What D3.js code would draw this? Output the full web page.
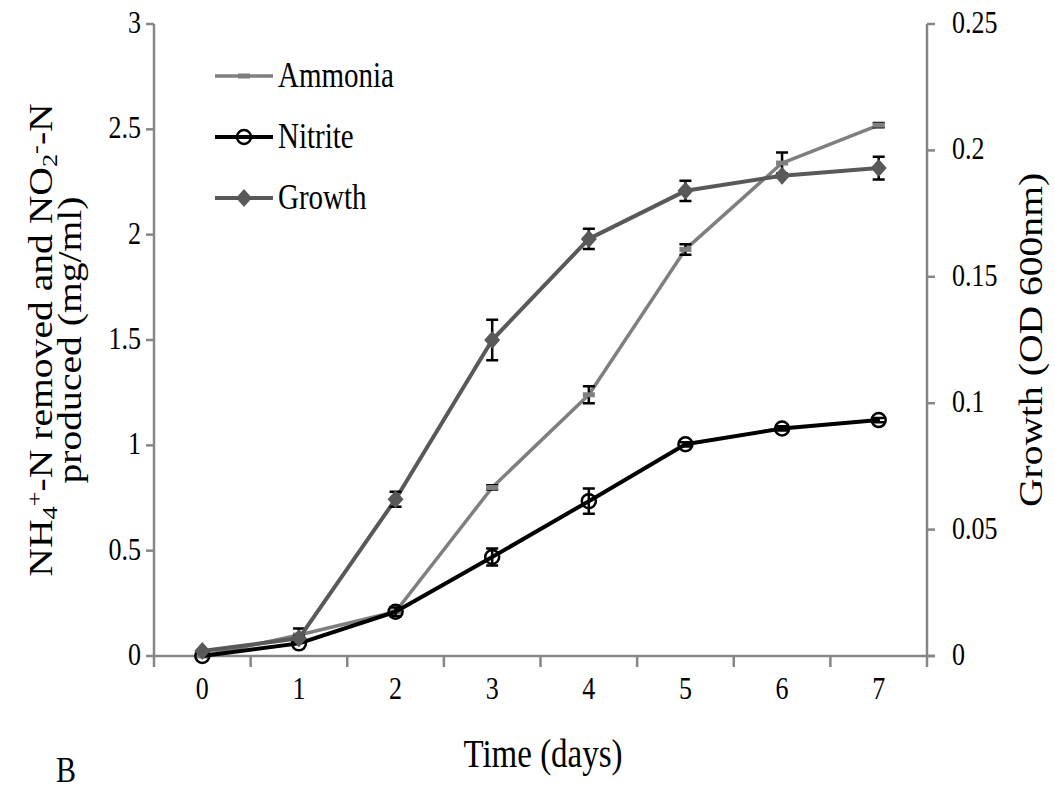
<!DOCTYPE html>
<html>
<head>
<meta charset="utf-8">
<script src="https://cdn.jsdelivr.net/npm/d3@7"></script>
<style>
  body { margin: 0; background: #fff; }
  svg text { font-family: "Liberation Serif", "Times New Roman", serif; fill: #000; }
</style>
</head>
<body>
<svg id="chart" width="1055" height="792"></svg>
<script>
// data
const days = [0, 1, 2, 3, 4, 5, 6, 7]
const ammonia = [0.0, 0.10, 0.21, 0.80, 1.24, 1.93, 2.34, 2.52]
const ammoniaErr = [0, 0.03, 0, 0.01, 0.04, 0.025, 0.05, 0.01]
const nitrite = [0.0, 0.06, 0.21, 0.47, 0.735, 1.005, 1.08, 1.12]
const nitriteErr = [0, 0, 0.02, 0.04, 0.06, 0.01, 0.01, 0.01]
const growth = [0.002, 0.007, 0.062, 0.125, 0.165, 0.184, 0.190, 0.193]
const growthErr = [0, 0.001, 0.003, 0.008, 0.004, 0.004, 0, 0.0045]
const leftTicks = [0, 0.5, 1, 1.5, 2, 2.5, 3]
const rightTicks = [0, 0.05, 0.1, 0.15, 0.2, 0.25]

const svg = d3.select('#chart')
const L = 154, R = 927, T = 24, B = 656
const SY = 1.2 // the figure's text is stretched vertically
const axisColor = '#868686'

const x = d3.scaleBand().domain(days).range([L, R]).padding(0)
const cx = d => x(d) + x.bandwidth() / 2
const xEdge = d3.scaleLinear().domain([0, days.length]).range([L, R])
const yL = d3.scaleLinear().domain([0, 3]).range([B, T])
const yR = d3.scaleLinear().domain([0, 0.25]).range([B, T])

const text = (g, tx, ty, str, size, anchor, rot) => {
  const t = g.append('text')
    .attr('transform', rot
      ? 'translate(' + tx + ',' + ty + ') rotate(-90) scale(' + SY + ',1)'
      : 'translate(' + tx + ',' + ty + ') scale(1,' + SY + ')')
    .attr('font-size', size)
    .attr('text-anchor', anchor || 'start')
  if (str) t.text(str)
  return t
}

// axes
const axes = svg.append('g')
  .attr('stroke', axisColor).attr('stroke-width', 2.5).attr('fill', 'none')

axes.append('line').attr('x1', L).attr('x2', R + 8).attr('y1', B).attr('y2', B)
axes.append('line').attr('x1', L).attr('x2', L).attr('y1', T).attr('y2', B)
axes.append('line').attr('x1', R).attr('x2', R).attr('y1', T).attr('y2', B)

axes.selectAll('.xt').data(d3.range(days.length + 1)).join('line')
  .attr('x1', d => xEdge(d)).attr('x2', d => xEdge(d))
  .attr('y1', B).attr('y2', B + 11)
axes.selectAll('.yl').data(leftTicks).join('line')
  .attr('x1', L - 8).attr('x2', L)
  .attr('y1', d => yL(d)).attr('y2', d => yL(d))
axes.selectAll('.yr').data(rightTicks).join('line')
  .attr('x1', R).attr('x2', R + 8)
  .attr('y1', d => yR(d)).attr('y2', d => yR(d))

const labels = svg.append('g')
days.forEach(d => text(labels, cx(d), 699, String(d), 26, 'middle'))
leftTicks.forEach(d => text(labels, 141, yL(d) + 9, String(d), 26, 'end'))
rightTicks.forEach(d => text(labels, 952, yR(d) + 9, String(d), 26, 'start'))

text(labels, 543, 767, 'Time (days)', 33, 'middle')
text(labels, 56, 782, 'B', 30, 'start')
text(labels, 1042, (T + B) / 2, 'Growth (OD 600nm)', 33, 'middle', true)

const yl1 = text(labels, 52, (T + B) / 2, null, 33, 'middle', true)
yl1.append('tspan').text('NH')
yl1.append('tspan').attr('font-size', 22).attr('baseline-shift', '-25%').text('4')
yl1.append('tspan').attr('font-size', 22).attr('baseline-shift', '45%').text('+')
yl1.append('tspan').text('-N removed and NO')
yl1.append('tspan').attr('font-size', 22).attr('baseline-shift', '-25%').text('2')
yl1.append('tspan').attr('font-size', 22).attr('baseline-shift', '45%').text('-')
yl1.append('tspan').text('-N')
text(labels, 81, (T + B) / 2, 'produced (mg/ml)', 33, 'middle', true)

// series
const series = [
  { name: 'Ammonia', values: ammonia, err: ammoniaErr, y: yL, color: '#7f7f7f', width: 3.5, marker: 'dash' },
  { name: 'Nitrite', values: nitrite, err: nitriteErr, y: yL, color: '#000000', width: 4, marker: 'circle' },
  { name: 'Growth', values: growth, err: growthErr, y: yR, color: '#595959', width: 4, marker: 'diamond' }
]

const drawMarker = (g, s, px, py) => {
  if (s.marker === 'circle') {
    g.append('circle').attr('cx', px).attr('cy', py).attr('r', 7)
      .attr('fill', 'none').attr('stroke', s.color).attr('stroke-width', 2.5)
  } else if (s.marker === 'diamond') {
    g.append('path')
      .attr('d', 'M' + px + ',' + (py - 9) + 'L' + (px + 8) + ',' + py + 'L' + px + ',' + (py + 9) + 'L' + (px - 8) + ',' + py + 'Z')
      .attr('fill', s.color)
  } else {
    g.append('rect').attr('x', px - 6).attr('y', py - 2.5).attr('width', 12).attr('height', 5)
      .attr('fill', s.color)
  }
}

const plot = svg.append('g')
series.forEach(s => {
  const g = plot.append('g')
  const line = d3.line().x((v, i) => cx(days[i])).y(v => s.y(v))
  g.append('path').attr('d', line(s.values))
    .attr('fill', 'none').attr('stroke', s.color).attr('stroke-width', s.width)
    .attr('stroke-linejoin', 'round')
  s.values.forEach((v, i) => {
    const e = s.err[i]
    if (e > 0) {
      const px = cx(days[i])
      const y0 = s.y(v - e), y1 = s.y(v + e)
      g.append('path')
        .attr('d', 'M' + px + ',' + y0 + 'V' + y1 + 'M' + (px - 6) + ',' + y0 + 'H' + (px + 6) + 'M' + (px - 6) + ',' + y1 + 'H' + (px + 6))
        .attr('stroke', '#000').attr('stroke-width', 2.5).attr('fill', 'none')
    }
    drawMarker(g, s, cx(days[i]), s.y(v))
  })
})

// legend
const legend = svg.append('g')
series.forEach((s, i) => {
  const ly = 76 + i * 61
  legend.append('line').attr('x1', 215).attr('x2', 273).attr('y1', ly).attr('y2', ly)
    .attr('stroke', s.color).attr('stroke-width', s.width)
  drawMarker(legend, s, 244, ly)
  text(legend, 278, ly + 11, s.name, 29, 'start')
})
</script>
</body>
</html>
